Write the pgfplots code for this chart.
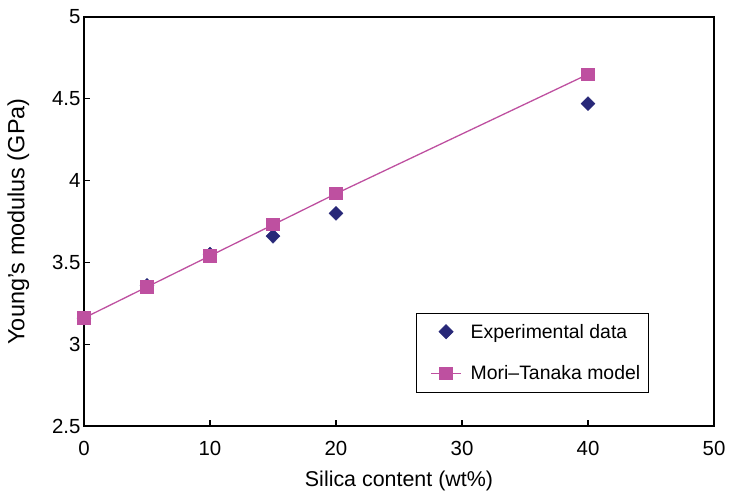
\documentclass[border=0pt]{standalone}
\usepackage{pgfplots}
\pgfplotsset{compat=1.18}
\usepackage{fontspec}
\setmainfont{Liberation Sans}
\definecolor{expblue}{RGB}{40,40,120}
\definecolor{mtpink}{RGB}{190,80,160}
\begin{document}
\begin{tikzpicture}[x=1bp,y=1bp]
\begin{axis}[
  scale only axis,
  width=630bp, height=409bp,
  xmin=0, xmax=50, ymin=2.5, ymax=5,
  xtick={0,10,...,50},
  ytick={2.5,3,...,5},
  yticklabels={2.5,3,3.5,4,4.5,5},
  xtick pos=bottom, ytick pos=left,
  tick align=inside,
  major tick length=6bp,
  tick style={black, line width=1.2pt},
  axis line style={black, line width=1.2pt},
  /pgf/number format/assume math mode=true,
  tick label style={font=\fontsize{20.5}{22}\selectfont},
  xticklabel style={yshift=-12bp},
  xlabel={Silica content (wt\%)},
  ylabel={Young’s modulus (GPa)},
  xlabel style={yshift=-8bp, font=\fontsize{21.5}{23}\selectfont},
  ylabel style={yshift=16bp, font=\fontsize{23.5}{25}\selectfont},
  legend style={at={(0.527,0.082)}, anchor=south west, draw=black, line width=0.8pt,
    font=\fontsize{19.5}{21}\selectfont, row sep=22bp, inner xsep=6bp, inner ysep=9bp,
    cells={anchor=west}},
  legend cell align=left,
]
\addplot[only marks, mark=diamond*, mark size=7bp, color=expblue, fill=expblue,
  mark options={xscale=1.33},
  legend image code/.code={\path (0bp,0bp) (45bp,0bp);
    \draw plot coordinates {(23bp,0bp)};}]
  coordinates {(0,3.16) (5,3.36) (10,3.55) (15,3.66) (20,3.80) (40,4.47)};
\addlegendentry{Experimental data}
\addplot[mtpink, line width=1.3pt, mark=square*, mark size=6bp,
  mark options={fill=mtpink, draw=mtpink},
  legend image code/.code={\path (0bp,0bp) (45bp,0bp);
    \draw[line width=1.5pt, mark repeat=2, mark phase=2]
    plot coordinates {(8bp,0bp) (23bp,0bp) (38bp,0bp)};}]
  coordinates {(0,3.16) (5,3.35) (10,3.54) (15,3.73) (20,3.92) (40,4.65)};
\addlegendentry{Mori–Tanaka model}
\end{axis}
\pgfresetboundingbox
\path[use as bounding box] (-84bp,-69bp) rectangle (646bp,426bp);
\end{tikzpicture}
\end{document}
